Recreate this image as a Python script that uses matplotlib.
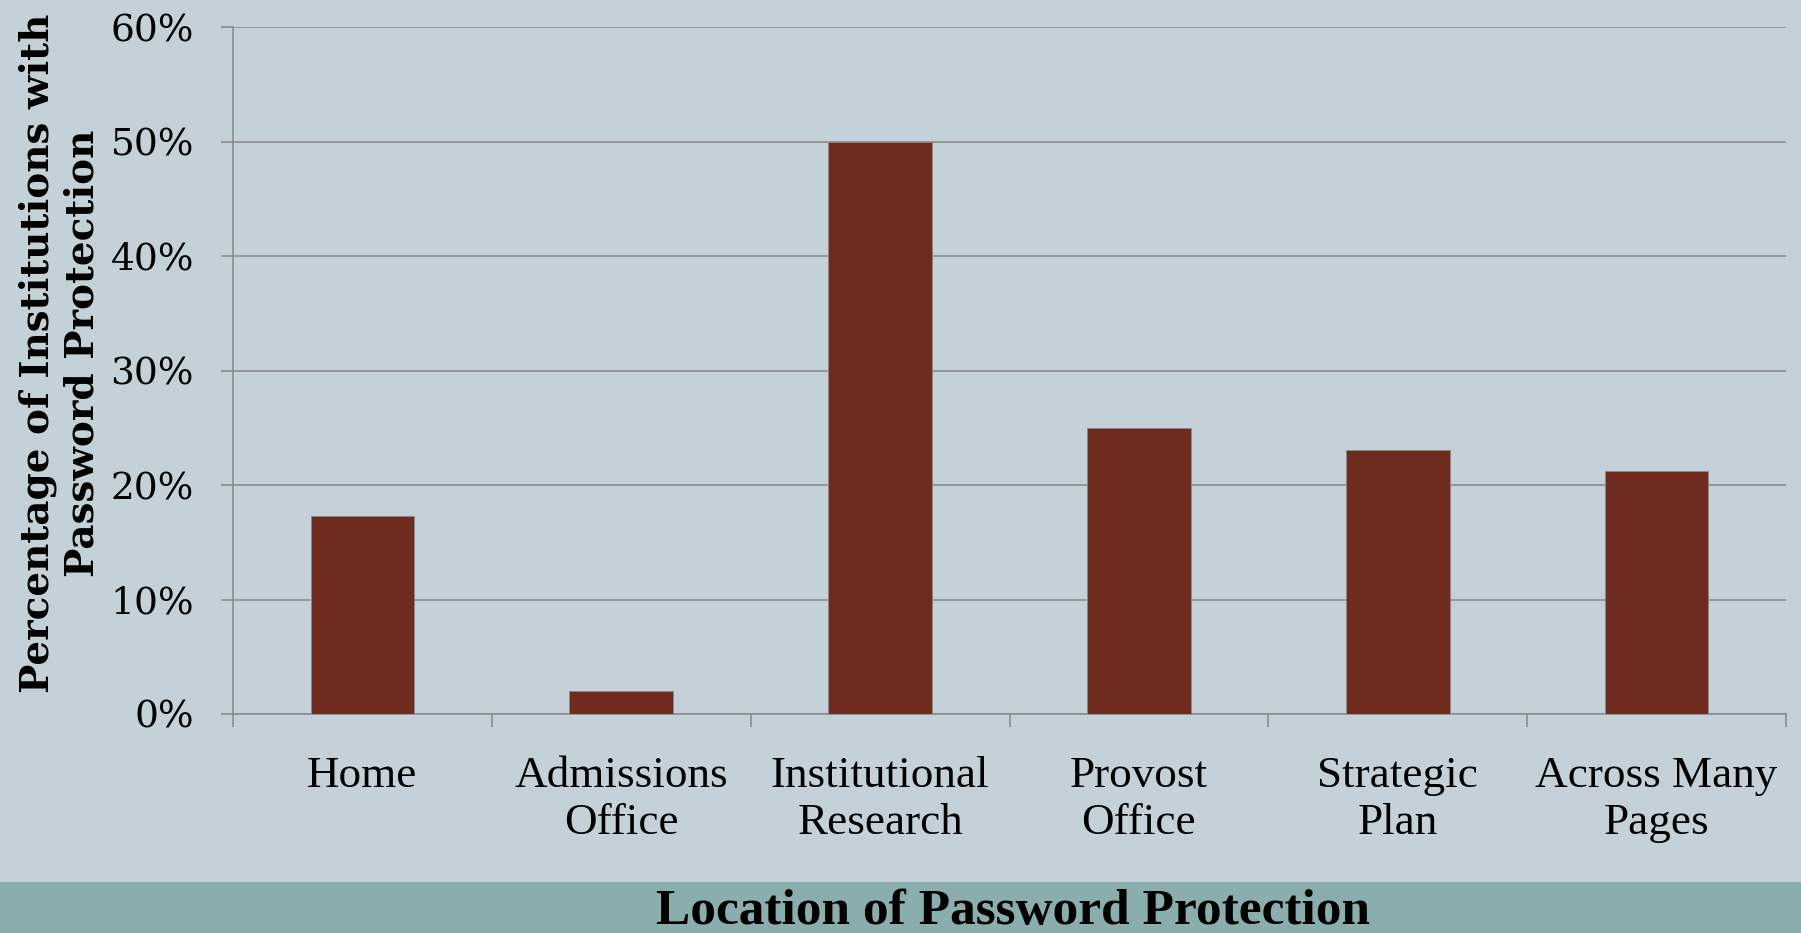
import matplotlib
matplotlib.use("Agg")
import matplotlib.pyplot as plt
import matplotlib.patches as mpatches
import numpy as np

# data
categories = ["Home", "Admissions\nOffice", "Institutional\nResearch",
              "Provost\nOffice", "Strategic\nPlan", "Across Many\nPages"]
values = [17.3, 2.0, 50.0, 25.0, 23.1, 21.2]
y_ticks = [0, 10, 20, 30, 40, 50, 60]
y_ticklabels = ["0%", "10%", "20%", "30%", "40%", "50%", "60%"]

bg = "#c5d1d8"
band = "#8aadad"
bar_color = "#6f2b1e"
grid_color = "#8c8c8c"

fig = plt.figure(figsize=(18.01, 9.33), dpi=100, facecolor=bg)
ax = fig.add_axes([233 / 1801, 1 - 714 / 933, (1786 - 233) / 1801, (714 - 27) / 933])
ax.set_facecolor(bg)

# bottom band behind the x axis title
fig.patches.append(mpatches.Rectangle((0, 0), 1, 51 / 933, transform=fig.transFigure,
                                      facecolor=band, edgecolor="none", zorder=0))

x = np.arange(len(categories))
ax.bar(x, values, width=0.4, color=bar_color, edgecolor="#8a8a8a", linewidth=0.6, zorder=3)

ax.set_xlim(-0.5, len(categories) - 0.5)
ax.set_ylim(0, 60)
ax.set_yticks(y_ticks)
ax.set_yticklabels(y_ticklabels, fontfamily="DejaVu Serif", fontsize=27)
ax.yaxis.grid(True, color=grid_color, linewidth=1.2, zorder=1)
ax.set_axisbelow(True)

ax.set_xticks(x)
ax.set_xticklabels(categories, fontfamily="Liberation Serif", fontsize=32.5, linespacing=1.25)
ax.set_xticks(np.arange(-0.5, len(categories), 1), minor=True)
ax.tick_params(axis="x", which="major", length=0, pad=30)
ax.tick_params(axis="x", which="minor", length=9, width=1.2, color=grid_color, direction="out")
ax.tick_params(axis="y", length=9, width=1.2, color=grid_color, pad=19)

for side in ["top", "right"]:
    ax.spines[side].set_visible(False)
for side in ["left", "bottom"]:
    ax.spines[side].set_color(grid_color)
    ax.spines[side].set_linewidth(1.2)

fig.text(60 / 1801, 1 - 353 / 933, "Percentage of Institutions with\nPassword Protection",
         rotation=90, ha="center", va="center", fontfamily="DejaVu Serif",
         fontweight="bold", fontsize=28, linespacing=1.2)
fig.text(1013 / 1801, 1 - 912 / 933, "Location of Password Protection",
         ha="center", va="center", fontfamily="Liberation Serif", fontweight="bold", fontsize=37)

fig.savefig("out.png", dpi=100, facecolor=bg)
